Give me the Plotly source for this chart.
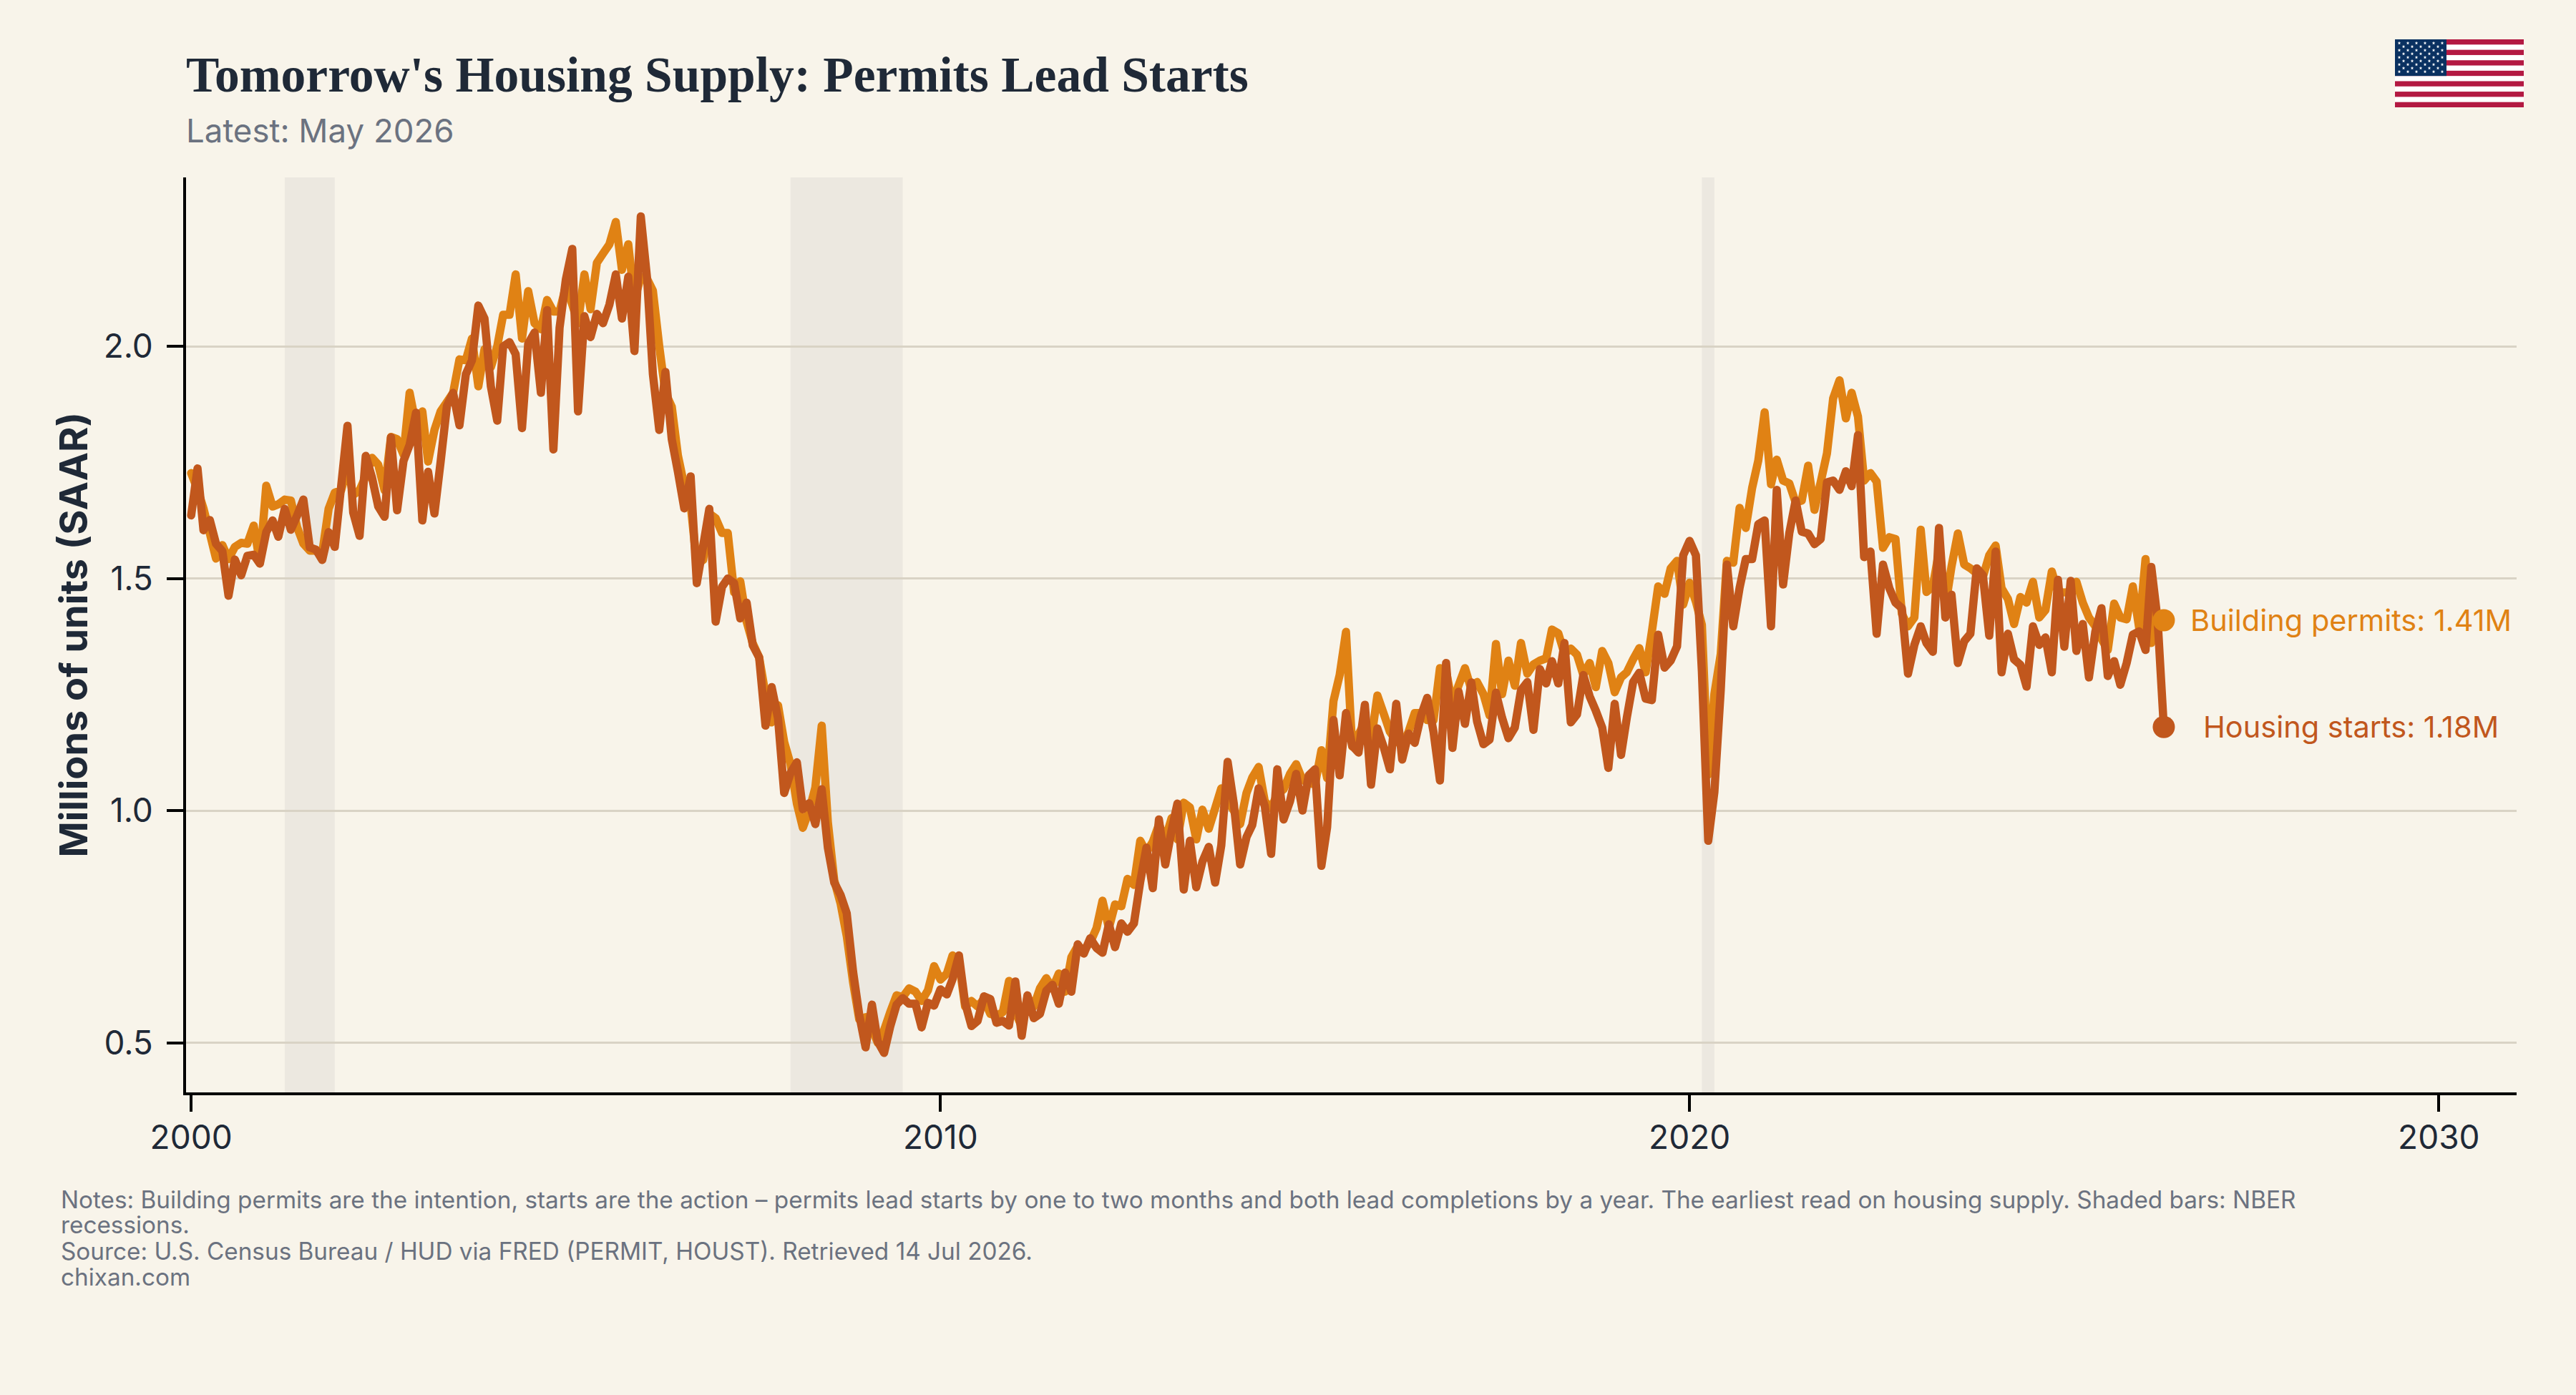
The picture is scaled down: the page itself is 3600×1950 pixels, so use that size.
import base64
import pandas as pd
import plotly.graph_objects as go

# Monthly seasonally adjusted annual rates, millions of units, Jan 2000 to May 2026
housing_starts = [
    1.636, 1.737, 1.604, 1.626, 1.575, 1.559, 1.463, 1.541, 1.507, 1.549, 1.551, 1.532,
    1.600, 1.625, 1.590, 1.650, 1.605, 1.636, 1.670, 1.567, 1.562, 1.540, 1.600, 1.568,
    1.698, 1.829, 1.642, 1.592, 1.764, 1.717, 1.655, 1.633, 1.804, 1.647, 1.753, 1.788,
    1.857, 1.625, 1.730, 1.640, 1.751, 1.872, 1.900, 1.830, 1.940, 1.970, 2.088, 2.060,
    1.914, 1.840, 2.000, 2.009, 1.983, 1.824, 2.006, 2.030, 1.900, 2.078, 1.778, 2.040,
    2.145, 2.210, 1.860, 2.065, 2.020, 2.070, 2.050, 2.090, 2.155, 2.060, 2.150, 1.990,
    2.280, 2.145, 1.940, 1.820, 1.945, 1.800, 1.730, 1.651, 1.720, 1.490, 1.570, 1.650,
    1.407, 1.482, 1.500, 1.490, 1.414, 1.448, 1.356, 1.330, 1.183, 1.266, 1.199, 1.038,
    1.081, 1.104, 1.003, 1.016, 0.971, 1.046, 0.920, 0.845, 0.818, 0.779, 0.653, 0.560,
    0.490, 0.582, 0.503, 0.478, 0.535, 0.582, 0.596, 0.584, 0.584, 0.533, 0.586, 0.580,
    0.615, 0.604, 0.637, 0.688, 0.586, 0.536, 0.547, 0.600, 0.594, 0.543, 0.547, 0.537,
    0.632, 0.515, 0.602, 0.553, 0.562, 0.612, 0.625, 0.584, 0.651, 0.610, 0.712, 0.692,
    0.725, 0.704, 0.694, 0.755, 0.706, 0.757, 0.739, 0.757, 0.847, 0.920, 0.833, 0.981,
    0.884, 0.958, 1.015, 0.830, 0.935, 0.835, 0.890, 0.922, 0.845, 0.925, 1.105, 1.015,
    0.884, 0.943, 0.969, 1.048, 1.010, 0.907, 1.089, 0.981, 1.020, 1.079, 1.000, 1.076,
    1.089, 0.881, 0.964, 1.195, 1.076, 1.210, 1.140, 1.125, 1.228, 1.056, 1.177, 1.138,
    1.089, 1.230, 1.110, 1.166, 1.146, 1.205, 1.243, 1.169, 1.065, 1.318, 1.135, 1.256,
    1.187, 1.276, 1.192, 1.143, 1.153, 1.254, 1.200, 1.156, 1.179, 1.259, 1.277, 1.174,
    1.305, 1.274, 1.322, 1.274, 1.361, 1.190, 1.207, 1.292, 1.246, 1.215, 1.179, 1.092,
    1.230, 1.120, 1.200, 1.277, 1.297, 1.241, 1.238, 1.379, 1.308, 1.323, 1.354, 1.550,
    1.581, 1.550, 1.300, 0.935, 1.040, 1.260, 1.530, 1.397, 1.480, 1.542, 1.542, 1.617,
    1.625, 1.397, 1.691, 1.487, 1.597, 1.668, 1.601, 1.597, 1.574, 1.585, 1.707, 1.711,
    1.691, 1.731, 1.699, 1.809, 1.546, 1.558, 1.381, 1.530, 1.479, 1.448, 1.436, 1.295,
    1.357, 1.397, 1.361, 1.342, 1.609, 1.416, 1.465, 1.318, 1.365, 1.381, 1.522, 1.507,
    1.377, 1.558, 1.298, 1.381, 1.326, 1.314, 1.267, 1.397, 1.357, 1.373, 1.298, 1.497,
    1.353, 1.495, 1.344, 1.402, 1.287, 1.385, 1.436, 1.290, 1.322, 1.271, 1.318, 1.379,
    1.386, 1.346, 1.525, 1.410, 1.180,
]
building_permits = [
    1.727, 1.692, 1.651, 1.597, 1.543, 1.572, 1.542, 1.568, 1.577, 1.575, 1.614, 1.534,
    1.700, 1.655, 1.660, 1.670, 1.668, 1.610, 1.575, 1.560, 1.560, 1.555, 1.650, 1.685,
    1.690, 1.740, 1.680, 1.690, 1.720, 1.760, 1.745, 1.690, 1.805, 1.800, 1.767, 1.900,
    1.830, 1.860, 1.752, 1.820, 1.860, 1.880, 1.900, 1.972, 1.970, 2.017, 1.914, 1.994,
    1.955, 2.000, 2.068, 2.068, 2.155, 2.017, 2.119, 2.050, 2.037, 2.100, 2.075, 2.075,
    2.130, 2.090, 2.050, 2.155, 2.080, 2.180, 2.200, 2.220, 2.268, 2.165, 2.220, 2.100,
    2.150, 2.145, 2.120, 2.000, 1.900, 1.870, 1.765, 1.700, 1.660, 1.530, 1.540, 1.640,
    1.630, 1.598, 1.598, 1.470, 1.494, 1.407, 1.360, 1.330, 1.250, 1.190, 1.227, 1.148,
    1.100, 1.015, 0.963, 1.000, 1.050, 1.183, 0.975, 0.850, 0.800, 0.730, 0.630, 0.550,
    0.555, 0.530, 0.500, 0.527, 0.566, 0.602, 0.598, 0.617, 0.610, 0.590, 0.613, 0.665,
    0.636, 0.649, 0.688, 0.676, 0.578, 0.590, 0.578, 0.594, 0.562, 0.558, 0.566, 0.633,
    0.566, 0.535, 0.598, 0.578, 0.617, 0.639, 0.617, 0.649, 0.610, 0.684, 0.708, 0.700,
    0.716, 0.747, 0.806, 0.747, 0.798, 0.794, 0.853, 0.840, 0.935, 0.910, 0.933, 0.970,
    0.938, 0.984, 0.938, 1.017, 1.007, 0.938, 1.002, 0.961, 1.005, 1.048, 1.020, 1.000,
    0.971, 1.038, 1.071, 1.094, 1.020, 1.005, 1.035, 1.046, 1.079, 1.100, 1.066, 1.060,
    1.056, 1.130, 1.070, 1.236, 1.292, 1.385, 1.138, 1.164, 1.190, 1.150, 1.248, 1.210,
    1.170, 1.150, 1.140, 1.170, 1.210, 1.210, 1.195, 1.195, 1.307, 1.300, 1.230, 1.270,
    1.307, 1.261, 1.277, 1.251, 1.205, 1.359, 1.251, 1.323, 1.269, 1.361, 1.295, 1.315,
    1.323, 1.328, 1.390, 1.382, 1.338, 1.349, 1.336, 1.292, 1.318, 1.266, 1.344, 1.318,
    1.255, 1.287, 1.298, 1.326, 1.350, 1.298, 1.385, 1.483, 1.467, 1.522, 1.538, 1.444,
    1.491, 1.450, 1.400, 1.078, 1.251, 1.338, 1.538, 1.534, 1.652, 1.609, 1.695, 1.754,
    1.858, 1.703, 1.756, 1.711, 1.705, 1.664, 1.668, 1.743, 1.648, 1.707, 1.770, 1.888,
    1.927, 1.845, 1.900, 1.849, 1.711, 1.727, 1.709, 1.566, 1.589, 1.585, 1.424, 1.397,
    1.416, 1.605, 1.471, 1.483, 1.558, 1.440, 1.526, 1.597, 1.530, 1.522, 1.511, 1.503,
    1.550, 1.571, 1.479, 1.456, 1.402, 1.460, 1.448, 1.493, 1.416, 1.432, 1.515, 1.471,
    1.470, 1.471, 1.493, 1.448, 1.416, 1.397, 1.370, 1.346, 1.446, 1.416, 1.412, 1.483,
    1.393, 1.542, 1.361, 1.424, 1.410,
]
months = pd.date_range("2000-01-01", periods=len(housing_starts), freq="MS")
assert len(building_permits) == len(housing_starts)

recessions = [("2001-04-01", "2001-12-01"), ("2008-01-01", "2009-07-01"), ("2020-03-01", "2020-05-01")]
y_ticks = [0.5, 1.0, 1.5, 2.0]
x_ticks = ["2000-01-01", "2010-01-01", "2020-01-01", "2030-01-01"]
x_tick_labels = ["2000", "2010", "2020", "2030"]

TITLE = "Tomorrow's Housing Supply: Permits Lead Starts"
SUBTITLE = "Latest: May 2026"
Y_TITLE = "Millions of units (SAAR)"
NOTES = [
    "Notes: Building permits are the intention, starts are the action – permits lead starts by one to two months and both lead completions by a year. The earliest read on housing supply. Shaded bars: NBER",
    "recessions.",
    "Source: U.S. Census Bureau / HUD via FRED (PERMIT, HOUST). Retrieved 14 Jul 2026.",
    "chixan.com",
]

WIDTH, HEIGHT = 3600, 1950
LEFT, RIGHT, TOP, BOTTOM = 260, 3517, 248, 1527
PAPER = "#F8F4EA"
PERMIT_COLOR = "#E08214"
STARTS_COLOR = "#C1571D"
INK = "#1F2937"
MUTED = "#6B7280"
AXIS = "#000000"
BODY_FONT = "Inter"


def paper_x(px):
    return (px - LEFT) / (RIGHT - LEFT)


def paper_y(px):
    return (BOTTOM - px) / (BOTTOM - TOP)


def flag_uri():
    """A 50-star US flag as an inline SVG."""
    w, h = 180, 95
    stripe = h / 13
    parts = [f'<svg xmlns="http://www.w3.org/2000/svg" width="{w}" height="{h}" viewBox="0 0 {w} {h}">',
             f'<rect width="{w}" height="{h}" fill="#fff"/>']
    for s in range(0, 13, 2):
        parts.append(f'<rect y="{s * stripe:.2f}" width="{w}" height="{stripe:.2f}" fill="#B31942"/>')
    canton_w, canton_h = 72, 7 * stripe
    parts.append(f'<rect width="{canton_w}" height="{canton_h:.2f}" fill="#0A3161"/>')
    star = "M0,-2.4 L0.7,-0.75 L2.3,-0.75 L1,0.3 L1.45,1.95 L0,1 L-1.45,1.95 L-1,0.3 L-2.3,-0.75 L-0.7,-0.75 Z"
    for row in range(9):
        count = 6 if row % 2 == 0 else 5
        for col in range(count):
            x = 6 + col * 12 + (6 if row % 2 else 0)
            y = 5.2 + row * 5
            parts.append(f'<path transform="translate({x},{y})" d="{star}" fill="#fff"/>')
    parts.append("</svg>")
    return "data:image/svg+xml;base64," + base64.b64encode("".join(parts).encode()).decode()


fig = go.Figure()

for start, end in recessions:
    fig.add_shape(type="rect", x0=start, x1=end, yref="paper", y0=0, y1=1,
                  fillcolor="rgba(105,100,115,0.08)", line_width=0, layer="below")

fig.add_trace(go.Scatter(x=months, y=building_permits, mode="lines", name="Building permits",
                         line=dict(color=PERMIT_COLOR, width=11.5, simplify=False), showlegend=False))
fig.add_trace(go.Scatter(x=months, y=housing_starts, mode="lines", name="Housing starts",
                         line=dict(color=STARTS_COLOR, width=11.5, simplify=False), showlegend=False))
fig.add_trace(go.Scatter(x=[months[-1]], y=[building_permits[-1]], mode="markers",
                         marker=dict(color=PERMIT_COLOR, size=31), showlegend=False))
fig.add_trace(go.Scatter(x=[months[-1]], y=[housing_starts[-1]], mode="markers",
                         marker=dict(color=STARTS_COLOR, size=31), showlegend=False))

annotations = [
    dict(text=TITLE, xref="paper", yref="paper", x=paper_x(258), y=paper_y(104), xanchor="left", yanchor="middle",
         showarrow=False, font=dict(family="Liberation Serif", size=69.5, color=INK, weight="bold")),
    dict(text=SUBTITLE, xref="paper", yref="paper", x=paper_x(258), y=paper_y(182), xanchor="left", yanchor="middle",
         showarrow=False, font=dict(family=BODY_FONT, size=45.6, color=MUTED)),
    dict(text=Y_TITLE, xref="paper", yref="paper", x=paper_x(102), y=0.5, xanchor="center", yanchor="middle",
         textangle=-90, showarrow=False, font=dict(family=BODY_FONT, size=54, color=INK, weight=700)),
    dict(text=f"Building permits: {building_permits[-1]:.2f}M", x=months[-1], y=building_permits[-1],
         xanchor="center", yanchor="middle", xshift=262, showarrow=False,
         font=dict(family=BODY_FONT, size=41.5, color=PERMIT_COLOR)),
    dict(text=f"Housing starts: {housing_starts[-1]:.2f}M", x=months[-1], y=housing_starts[-1],
         xanchor="center", yanchor="middle", xshift=262, showarrow=False,
         font=dict(family=BODY_FONT, size=41.5, color=STARTS_COLOR)),
]
for line, centre in zip(NOTES, [1677, 1712, 1749, 1785]):
    annotations.append(dict(text=line, xref="paper", yref="paper", x=paper_x(83), y=paper_y(centre),
                            xanchor="left", yanchor="middle", showarrow=False,
                            font=dict(family=BODY_FONT, size=33.3, color=MUTED)))

fig.update_layout(
    width=WIDTH, height=HEIGHT, autosize=False,
    margin=dict(l=LEFT, r=WIDTH - RIGHT, t=TOP, b=HEIGHT - BOTTOM, pad=0),
    paper_bgcolor=PAPER, plot_bgcolor=PAPER,
    font=dict(family=BODY_FONT, color=INK),
    showlegend=False, annotations=annotations,
    images=[dict(source=flag_uri(), xref="paper", yref="paper", x=paper_x(3347), y=paper_y(55),
                 sizex=180 / (RIGHT - LEFT), sizey=95 / (BOTTOM - TOP), xanchor="left", yanchor="top",
                 sizing="stretch", layer="above")],
    xaxis=dict(type="date", range=["1999-12-07", "2031-01-15"], tickvals=x_ticks, ticktext=x_tick_labels,
               showgrid=False, zeroline=False, showline=True, linecolor=AXIS, linewidth=4,
               ticks="outside", ticklen=23, tickwidth=4, tickcolor=AXIS, ticklabelstandoff=-3,
               tickfont=dict(family=BODY_FONT, size=46, color=INK)),
    yaxis=dict(range=[0.393, 2.364], tickvals=y_ticks, tickformat=".1f",
               showgrid=True, gridcolor="#D9D3C5", gridwidth=3, zeroline=False,
               showline=True, linecolor=AXIS, linewidth=4,
               ticks="outside", ticklen=23, tickwidth=4, tickcolor=AXIS, ticklabelstandoff=10,
               tickfont=dict(family=BODY_FONT, size=46, color=INK)),
)

fig.write_html("out.html", post_script="document.querySelectorAll('.js-line').forEach(p=>{p.style.strokeLinejoin='round';p.style.strokeLinecap='round';});")
